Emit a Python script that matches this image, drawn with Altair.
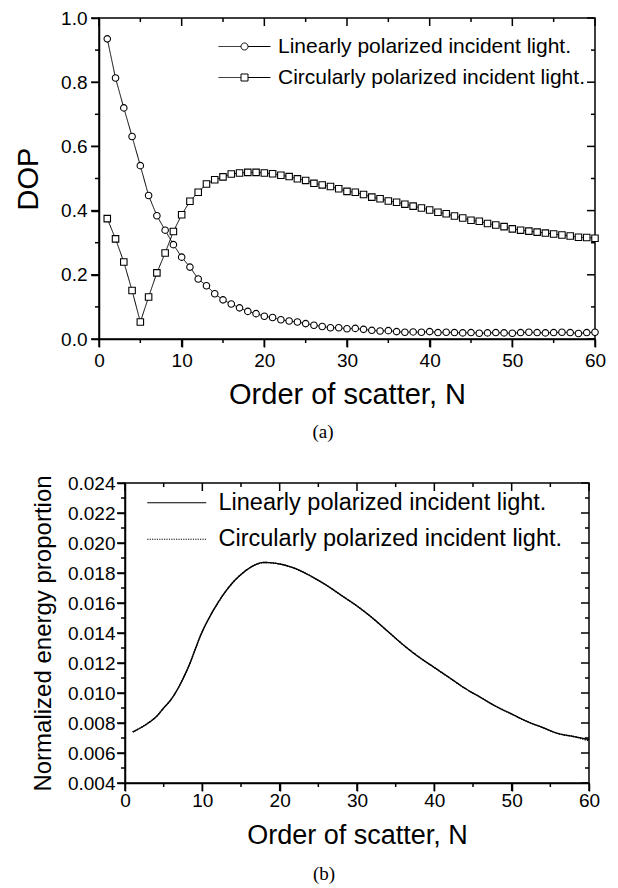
import altair as alt
import pandas as pd

LIN = "Linearly polarized incident light."
CIRC = "Circularly polarized incident light."

# ---------------- data ----------------
order_n = list(range(1, 61))
dop_linear = [0.935, 0.813, 0.720, 0.631, 0.540, 0.447, 0.384, 0.339, 0.294, 0.255,
              0.224, 0.187, 0.166, 0.141, 0.122, 0.109, 0.097, 0.086, 0.079, 0.071,
              0.067, 0.060, 0.056, 0.053, 0.048, 0.043, 0.039, 0.035, 0.035, 0.032,
              0.033, 0.030, 0.027, 0.025, 0.026, 0.023, 0.021, 0.022, 0.021, 0.023,
              0.020, 0.021, 0.020, 0.019, 0.020, 0.018, 0.019, 0.020, 0.019, 0.018,
              0.020, 0.021, 0.020, 0.019, 0.020, 0.021, 0.020, 0.017, 0.020, 0.021]
dop_circular = [0.375, 0.312, 0.240, 0.151, 0.053, 0.131, 0.206, 0.268, 0.335, 0.387,
                0.429, 0.457, 0.483, 0.496, 0.505, 0.514, 0.517, 0.519, 0.519, 0.517,
                0.515, 0.510, 0.506, 0.499, 0.494, 0.485, 0.480, 0.475, 0.468, 0.460,
                0.457, 0.450, 0.442, 0.437, 0.430, 0.426, 0.420, 0.414, 0.408, 0.402,
                0.395, 0.390, 0.383, 0.377, 0.370, 0.367, 0.360, 0.355, 0.350, 0.343,
                0.339, 0.336, 0.333, 0.330, 0.327, 0.324, 0.321, 0.317, 0.316, 0.314]

energy_n = [1, 3, 4, 5, 6, 8, 10, 12, 14, 15, 16, 18, 20, 22, 24, 26, 28, 30, 32, 34,
            36, 38, 40, 42, 44, 46, 48, 50, 52, 54, 56, 58, 60]
energy_linear = [0.0074, 0.0080, 0.0084, 0.0090, 0.0096, 0.0115, 0.0141, 0.0160, 0.0174,
                 0.0179, 0.0183, 0.0187, 0.0186, 0.0183, 0.0178, 0.0172, 0.0165, 0.0158,
                 0.0150, 0.0141, 0.0132, 0.0124, 0.0117, 0.0110, 0.0103, 0.0097, 0.0091,
                 0.0086, 0.0081, 0.0077, 0.0073, 0.0071, 0.0069]
energy_circular = [0.0074, 0.0080, 0.0084, 0.0090, 0.0096, 0.0115, 0.0141, 0.0160, 0.0174,
                   0.0179, 0.0183, 0.0187, 0.0186, 0.0183, 0.0178, 0.0172, 0.0165, 0.0158,
                   0.0150, 0.0141, 0.0132, 0.0124, 0.0117, 0.0110, 0.0103, 0.0097, 0.0091,
                   0.0086, 0.0081, 0.0077, 0.0073, 0.0071, 0.0068]

x_major = [0, 10, 20, 30, 40, 50, 60]
x_minor = [5, 15, 25, 35, 45, 55]
ya_major = [0.0, 0.2, 0.4, 0.6, 0.8, 1.0]
ya_minor = [0.1, 0.3, 0.5, 0.7, 0.9]
yb_major = [0.004, 0.006, 0.008, 0.010, 0.012, 0.014, 0.016, 0.018, 0.020, 0.022, 0.024]
yb_minor = [0.005, 0.007, 0.009, 0.011, 0.013, 0.015, 0.017, 0.019, 0.021, 0.023]

FONT = "Liberation Sans"
SERIF = "Liberation Serif"

dfa = pd.DataFrame({
    "N": order_n + order_n,
    "DOP": dop_linear + dop_circular,
    "series_a": [LIN] * len(order_n) + [CIRC] * len(order_n),
})
dfb = pd.DataFrame({
    "N": energy_n + energy_n,
    "E": energy_linear + energy_circular,
    "series_b": [LIN] * len(energy_n) + [CIRC] * len(energy_n),
})

TICKS = dict(ticks=True, tickColor="black", tickOpacity=1, tickWidth=1.5)
MAJ, MIN = 8, 4


def tick_layers(xs, ys, w, h, xmaj, xmin, ymaj, ymin):
    """Tick marks on all four sides, placed through the panel's own scales."""
    layers = []
    rule = dict(color="black", strokeWidth=1.5)
    for vals, size in ((xmaj, MAJ), (xmin, MIN)):
        base = alt.Chart(pd.DataFrame({"v": vals})).mark_rule(**rule)
        xenc = alt.X("v:Q", scale=xs, axis=None)
        layers.append(base.encode(x=xenc, y=alt.value(h), y2=alt.value(h + size)))
        layers.append(base.encode(x=xenc, y=alt.value(0), y2=alt.value(size)))
    for vals, size in ((ymaj, MAJ), (ymin, MIN)):
        base = alt.Chart(pd.DataFrame({"v": vals})).mark_rule(**rule)
        yenc = alt.Y("v:Q", scale=ys, axis=None)
        layers.append(base.encode(y=yenc, x=alt.value(0), x2=alt.value(-size)))
        layers.append(base.encode(y=yenc, x=alt.value(w), x2=alt.value(w - size)))
    return layers


def spacer():
    return alt.Chart(pd.DataFrame({"v": [0]})).mark_point(opacity=0).properties(
        width=1, height=1, view=alt.ViewBackground(stroke="transparent"))


# ---------------- panel (a) ----------------
WA, HA = 496, 321
xa = alt.Scale(domain=[0, 60], nice=False, zero=False)
ya = alt.Scale(domain=[0, 1], nice=False, zero=False)

PATH_C = ("M-13,0L-1.75,0M1.75,0L13,0M1.75,0A1.75,1.75,0,1,1,-1.75,0"
          "A1.75,1.75,0,1,1,1.75,0Z")
PATH_S = "M-13,0L-1.75,0M1.75,0L13,0M-1.75,-1.75L1.75,-1.75L1.75,1.75L-1.75,1.75Z"

legend_a = alt.Legend(
    orient="none", legendX=135, legendY=18, title=None,
    labelFontSize=21, labelFont=FONT, labelColor="black", labelLimit=600,
    labelOffset=23, symbolSize=16, symbolStrokeColor="black",
    symbolFillColor="white", symbolStrokeWidth=1, rowPadding=9, padding=0,
    symbolType=alt.ExprRef(expr=f"datum.value === '{LIN}' ? '{PATH_C}' : '{PATH_S}'"),
)

lines_a = alt.Chart(dfa).mark_line(color="black", strokeWidth=1).encode(
    x=alt.X("N:Q", scale=xa, axis=alt.Axis(
        orient="bottom", values=x_major, format="d", tickSize=MAJ, **TICKS,
        labelFontSize=19, labelPadding=4, labelFlush=False, labelOverlap=False,
        title="Order of scatter, N", titleFontSize=29, titlePadding=10)),
    y=alt.Y("DOP:Q", scale=ya, axis=alt.Axis(
        orient="left", values=ya_major, format=".1f", tickSize=MAJ, **TICKS,
        labelFontSize=19, labelPadding=4, labelFlush=False, labelOverlap=False,
        title="DOP", titleFontSize=29, titlePadding=17)),
    strokeDash=alt.StrokeDash("series_a:N",
                              scale=alt.Scale(domain=[LIN, CIRC], range=[[1, 0], [1, 0]]),
                              legend=legend_a),
)


def points_layer(name, shape):
    return alt.Chart(dfa).transform_filter(alt.datum.series_a == name).mark_point(
        shape=shape, filled=True, fill="white", stroke="black", strokeWidth=1.1,
        size=42, opacity=1,
    ).encode(
        x=alt.X("N:Q", scale=xa, axis=None),
        y=alt.Y("DOP:Q", scale=ya, axis=None),
    )


panel_a = alt.layer(
    lines_a, points_layer(LIN, "circle"), points_layer(CIRC, "square"),
    *tick_layers(xa, ya, WA, HA, x_major, x_minor, ya_major, ya_minor),
).resolve_axis(x="independent", y="independent").properties(
    width=WA, height=HA,
    title=alt.TitleParams("(a)", orient="bottom", font=SERIF, fontSize=19,
                          fontWeight="normal", frame="group", dx=-24, offset=14,
                          color="black"),
)

# ---------------- panel (b) ----------------
WB, HB = 464, 300
xb = alt.Scale(domain=[0, 60], nice=False, zero=False)
yb = alt.Scale(domain=[0.004, 0.024], nice=False, zero=False)

PATH_L = "M-14.75,0L14.75,0"
legend_b = alt.Legend(
    orient="none", legendX=40, legendY=8, title=None,
    labelFontSize=23.5, labelFont=FONT, labelColor="black", labelLimit=600,
    labelOffset=30, symbolType=PATH_L, symbolSize=16, symbolStrokeColor="black",
    symbolFillColor="transparent", symbolStrokeWidth=1.2, rowPadding=11.5, padding=0,
)

lines_b = alt.Chart(dfb).mark_line(color="black", strokeWidth=1.4, interpolate="monotone").encode(
    x=alt.X("N:Q", scale=xb, axis=alt.Axis(
        orient="bottom", values=x_major, format="d", tickSize=MAJ, **TICKS,
        labelFontSize=19, labelPadding=0, labelFlush=False, labelOverlap=False,
        title="Order of scatter, N", titleFontSize=27, titlePadding=12)),
    y=alt.Y("E:Q", scale=yb, axis=alt.Axis(
        orient="left", values=yb_major, format=".3f", tickSize=MAJ, **TICKS,
        labelFontSize=19, labelPadding=2, labelFlush=False, labelOverlap=False,
        title="Normalized energy proportion", titleFontSize=24, titlePadding=12)),
    strokeDash=alt.StrokeDash("series_b:N",
                              scale=alt.Scale(domain=[LIN, CIRC], range=[[1, 0], [1.2, 1.2]]),
                              legend=legend_b),
)

panel_b = alt.layer(
    lines_b,
    *tick_layers(xb, yb, WB, HB, x_major, x_minor, yb_major, yb_minor),
).resolve_axis(x="independent", y="independent").properties(
    width=WB, height=HB,
    title=alt.TitleParams("(b)", orient="bottom", font=SERIF, fontSize=19,
                          fontWeight="normal", frame="group", dx=-33, offset=17,
                          color="black"),
)

row_a = alt.hconcat(spacer(), panel_a, spacing=6).resolve_legend(
    strokeDash="independent").resolve_scale(strokeDash="independent")
row_b = alt.hconcat(spacer(), panel_b, spacing=23).resolve_legend(
    strokeDash="independent").resolve_scale(strokeDash="independent")

chart = alt.vconcat(row_a, row_b, spacing=30).resolve_legend(
    strokeDash="independent").resolve_scale(strokeDash="independent").properties(
    padding={"left": 0, "top": 8, "right": 0, "bottom": 0},
).configure_axis(
    grid=False, domainColor="black", tickColor="black", labelColor="black",
    titleColor="black", labelFont=FONT, titleFont=FONT, titleFontWeight="normal",
    domainWidth=1.5, tickWidth=1.5,
).configure_view(stroke="black", strokeWidth=1.5)

chart.save("out.html", embed_options={"renderer": "svg", "actions": False})
